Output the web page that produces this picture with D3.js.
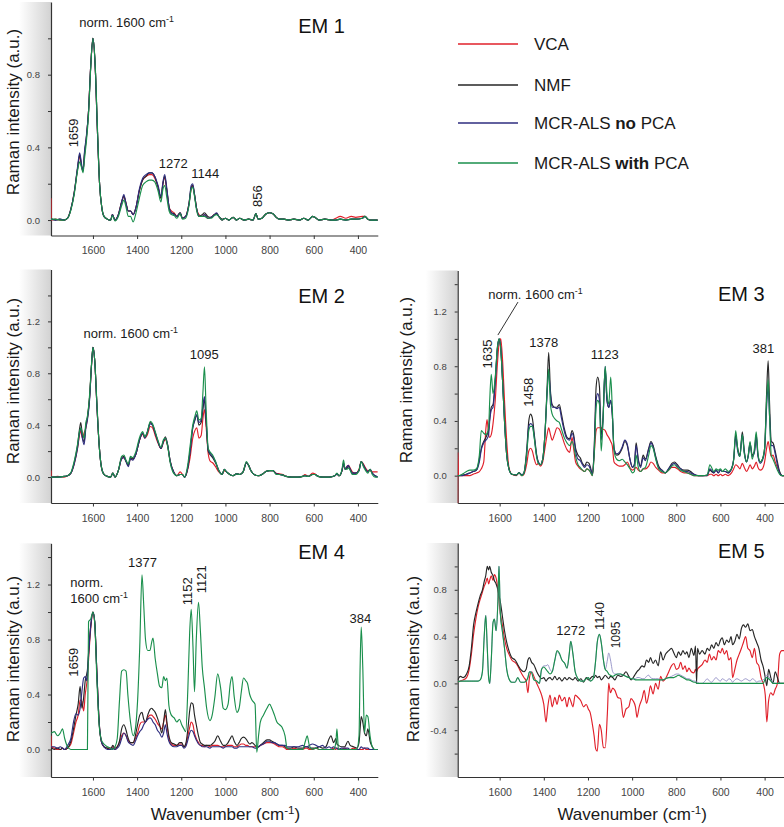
<!DOCTYPE html>
<html><head><meta charset="utf-8">
<script src="https://cdn.jsdelivr.net/npm/d3@7"></script>
<style>
body{margin:0;background:#fff}
svg{display:block}
text{font-family:"Liberation Sans",Arial,Helvetica,sans-serif}
</style>
</head><body>
<svg id="c" width="784" height="827"></svg>
<script>
// ---------------- data ----------------
const seriesNames = ["VCA", "NMF", "MCR-ALS no PCA", "MCR-ALS with PCA"];
const seriesColors = ["#e0202a", "#262626", "#2e2d7f", "#1a8f4c"];
const xTicks = [1600, 1400, 1200, 1000, 800, 600, 400];
const xDomain = [1790, 310];

// EM 1
const em1Wn = [1790,1789,1770,1750,1730,1715,1700,1685,1670,1660,
 1652,1645,1638,1630,1620,1610,1600,1590,1580,1570,
 1560,1550,1535,1520,1512,1500,1485,1470,1460,1450,
 1440,1430,1418,1405,1390,1375,1360,1345,1333,1320,
 1305,1292,1283,1275,1265,1255,1245,1232,1220,1205,
 1195,1180,1165,1155,1148,1140,1130,1120,1105,1095,
 1080,1065,1050,1040,1030,1015,1000,985,965,950,
 935,915,895,875,862,852,835,815,800,785,
 770,755,735,715,690,665,645,625,605,595,
 575,550,520,500,480,455,430,410,380,368,
 355,340,310];
const em1Vca = [0.12,0,0.005,0,0,0.01,0.06,0.15,0.28,0.35,
 0.3,0.27,0.36,0.45,0.6,0.85,1,0.85,0.5,0.2,
 0.07,0.02,0.005,0,0.03,0,0.03,0.1,0.13,0.09,
 0.05,0.05,0.03,0.07,0.16,0.22,0.24,0.25,0.25,0.23,
 0.18,0.12,0.2,0.23,0.16,0.07,0.05,0.04,0.02,0.04,
 0.01,0.02,0.09,0.17,0.19,0.14,0.06,0.03,0.02,0.03,
 0.01,0.015,0.03,0.035,0.02,0,0.01,0,0.015,0,
 0.01,0,0.005,0,0.035,0.005,0.01,0.035,0.04,0.035,
 0.015,0.005,0.005,0,0.005,0,0.01,0,0.02,0.015,
 0,0.005,0,0.01,0.02,0.01,0.02,0.015,0.02,0.02,
 0.005,0,0];
const em1Nmf = [0,0.005,0,0.005,0,0.01,0.06,0.15,0.28,0.36,
 0.3,0.27,0.37,0.45,0.6,0.85,1,0.85,0.5,0.2,
 0.07,0.02,0.005,0,0.03,0,0.03,0.1,0.13,0.09,
 0.05,0.05,0.03,0.07,0.16,0.22,0.24,0.26,0.26,0.24,
 0.18,0.12,0.2,0.24,0.16,0.07,0.04,0.035,0.02,0.04,
 0.01,0.02,0.09,0.18,0.19,0.14,0.06,0.02,0.03,0.04,
 0.02,0.015,0.03,0.035,0.02,0.005,0.01,0,0.015,0,
 0.01,0,0.005,0,0.035,0.005,0.01,0.035,0.04,0.035,
 0.015,0.005,0.005,0,0.005,0,0.01,0,0.02,0.015,
 0,0.005,0,0,0.005,0,0.005,0.005,0.01,0.02,
 0.005,0,0];
const em1Mcr = [0,0.005,0,0.005,0,0.01,0.06,0.15,0.29,0.37,
 0.31,0.27,0.38,0.46,0.6,0.85,1,0.85,0.5,0.2,
 0.07,0.02,0.005,0,0.03,0,0.03,0.1,0.14,0.09,
 0.05,0.05,0.03,0.07,0.17,0.23,0.25,0.26,0.26,0.24,
 0.19,0.13,0.21,0.25,0.17,0.07,0.04,0.03,0.02,0.04,
 0.01,0.02,0.09,0.19,0.2,0.14,0.06,0.02,0.02,0.03,
 0.01,0.015,0.03,0.04,0.02,0,0.01,0,0.015,0,
 0.01,0,0.005,0,0.035,0.005,0.01,0.035,0.04,0.035,
 0.015,0.005,0.005,0,0.005,0,0.01,0,0.02,0.015,
 0,0.005,0,0,0.005,0,0.005,0.005,0.01,0.02,
 0.005,0,0];
const em1McrPca = [0,0.005,0.005,0,0,0.01,0.055,0.14,0.27,0.32,
 0.29,0.26,0.34,0.43,0.58,0.84,1,0.86,0.52,0.2,
 0.07,0.02,0.005,0,0.025,-0.005,0.02,0.08,0.11,0.07,
 0.02,0.02,-0.01,0.04,0.12,0.19,0.21,0.22,0.22,0.21,
 0.16,0.1,0.17,0.19,0.12,0.05,0.03,0.025,0.01,0.035,
 0.005,0.01,0.08,0.17,0.18,0.13,0.05,0.02,0.02,0.02,
 0.01,0.01,0.025,0.03,0.02,0,0.01,0,0.015,0,
 0.01,0,0.005,0,0.035,0.005,0.01,0.035,0.04,0.035,
 0.015,0.005,0.005,0,0.005,0,0.01,0,0.02,0.015,
 0,0.005,0,0,0.005,0,0.005,0.005,0.01,0.02,
 0.005,0,0];

// EM 2
const em2Wn = [1790,1789,1760,1730,1715,1700,1685,1670,1660,1655,
 1648,1640,1632,1625,1615,1607,1600,1592,1582,1572,
 1562,1550,1535,1520,1510,1500,1485,1470,1460,1450,
 1440,1430,1420,1405,1390,1375,1365,1355,1340,1330,
 1318,1305,1292,1280,1272,1262,1250,1235,1220,1205,
 1195,1185,1172,1160,1148,1138,1130,1120,1110,1102,
 1095,1088,1078,1068,1058,1045,1030,1015,1005,995,
 980,965,950,935,920,905,895,885,870,850,
 830,815,800,785,770,755,740,725,700,670,
 650,640,625,605,595,580,560,530,505,495,
 485,472,465,458,450,443,435,425,410,395,
 385,375,365,355,345,335,322,310];
const em2Vca = [0.05,0,0.005,0,0.01,0.03,0.1,0.22,0.33,0.36,
 0.3,0.34,0.38,0.45,0.62,0.85,1,0.9,0.55,0.25,
 0.08,0.02,0.005,0,0.03,0,0.05,0.14,0.15,0.12,
 0.09,0.14,0.14,0.18,0.28,0.33,0.3,0.32,0.39,0.38,
 0.32,0.26,0.22,0.27,0.29,0.24,0.12,0.04,0.01,0.04,
 0.02,0,0.05,0.15,0.3,0.36,0.38,0.3,0.32,0.45,
 0.52,0.4,0.18,0.12,0.11,0.08,0.04,0.02,0.05,0.04,
 0.02,0.01,0.025,0.02,0.04,0.11,0.09,0.05,0.02,0.01,
 0.025,0.045,0.05,0.05,0.03,0.025,0.02,0.005,0,0,
 0.005,0.02,0.005,0.03,0.025,0.005,0,0,0.01,0.025,
 0.01,0.05,0.1,0.06,0.08,0.09,0.07,0.04,0.03,0.06,
 0.12,0.1,0.07,0.05,0.05,0.04,0.04,0.04];
const em2Nmf = [0,0,0,0.005,0.01,0.03,0.11,0.24,0.38,0.42,
 0.32,0.27,0.4,0.46,0.62,0.85,1,0.9,0.55,0.25,
 0.08,0.02,0.005,0,0.03,0,0.05,0.15,0.16,0.12,
 0.09,0.15,0.14,0.18,0.28,0.34,0.31,0.34,0.42,0.4,
 0.34,0.27,0.22,0.28,0.31,0.25,0.12,0.04,0.01,0.02,
 0.02,0,0.06,0.2,0.38,0.44,0.48,0.4,0.42,0.52,
 0.6,0.45,0.2,0.17,0.15,0.11,0.05,0.02,0.06,0.04,
 0.02,0.01,0.025,0.02,0.04,0.11,0.09,0.05,0.02,0.01,
 0.025,0.045,0.05,0.05,0.025,0.02,0.015,0.005,0,0,
 0.005,0.01,0.005,0.02,0.02,0.005,0,0,0.01,0.025,
 0.01,0.05,0.11,0.06,0.07,0.08,0.06,0.03,0.03,0.05,
 0.12,0.09,0.06,0.04,0.06,0.03,0.01,0];
const em2Mcr = [0,0,0,0.005,0.01,0.03,0.1,0.22,0.35,0.38,
 0.3,0.25,0.38,0.44,0.6,0.85,1,0.9,0.55,0.25,
 0.08,0.02,0.005,0,0.03,0,0.05,0.14,0.15,0.12,
 0.08,0.14,0.13,0.18,0.28,0.34,0.3,0.34,0.41,0.4,
 0.34,0.27,0.22,0.28,0.3,0.25,0.12,0.04,0.01,0.02,
 0.02,0,0.06,0.2,0.38,0.45,0.48,0.42,0.44,0.55,
 0.62,0.45,0.21,0.18,0.16,0.12,0.05,0.02,0.06,0.04,
 0.02,0.01,0.025,0.02,0.04,0.11,0.09,0.05,0.02,0.01,
 0.025,0.045,0.05,0.05,0.025,0.02,0.015,0.005,0,0,
 0.005,0.01,0.005,0.02,0.02,0.005,0,0,0.01,0.025,
 0.01,0.05,0.1,0.06,0.08,0.09,0.06,0.03,0.03,0.05,
 0.12,0.09,0.06,0.04,0.06,0.03,0.01,0];
const em2McrPca = [0,0,0,0.005,0.01,0.035,0.12,0.25,0.36,0.38,
 0.34,0.3,0.42,0.47,0.64,0.86,1,0.9,0.57,0.25,
 0.08,0.02,0.005,0,0.03,0,0.05,0.16,0.17,0.13,
 0.1,0.16,0.15,0.2,0.3,0.35,0.31,0.34,0.43,0.41,
 0.35,0.28,0.23,0.29,0.3,0.24,0.11,0.03,0.01,0.02,
 0.02,0,0.08,0.24,0.4,0.47,0.51,0.44,0.45,0.65,
 0.85,0.55,0.22,0.19,0.17,0.12,0.05,0.02,0.06,0.04,
 0.02,0.01,0.025,0.02,0.04,0.12,0.09,0.05,0.02,0.01,
 0.025,0.045,0.05,0.05,0.02,0.02,0.015,0.005,0,0,
 0.005,0.01,0.005,0.02,0.02,0.005,0,0,0.01,0.03,
 0.01,0.06,0.13,0.06,0.06,0.07,0.05,0.02,0.02,0.05,
 0.12,0.08,0.05,0.03,0.06,0.02,0,0];

// EM 3
const em3Wn = [1790,1789,1786,1770,1750,1735,1720,1705,1692,1683,
 1672,1662,1657,1650,1645,1638,1630,1620,1610,1602,
 1595,1587,1578,1568,1558,1545,1525,1512,1500,1490,
 1478,1468,1460,1452,1443,1433,1425,1415,1405,1395,
 1385,1378,1370,1362,1352,1340,1330,1320,1308,1295,
 1283,1272,1265,1256,1245,1235,1225,1215,1205,1195,
 1187,1180,1172,1163,1156,1148,1140,1132,1122,1114,
 1106,1097,1090,1082,1070,1058,1045,1033,1022,1010,
 998,990,982,972,962,950,940,925,915,905,
 893,880,865,850,835,820,808,795,780,765,
 750,735,720,700,680,660,648,640,630,620,
 610,600,590,578,565,550,540,531,522,512,
 501,492,482,474,466,456,446,438,430,420,
 410,400,391,384,378,370,362,352,342,332,
 320,310];
const em3Vca = [-0.2,0.17,0,0,0,0,0.01,0.02,0.03,0.05,
 0.1,0.35,0.41,0.3,0.28,0.3,0.38,0.55,0.82,0.97,
 1,0.85,0.55,0.25,0.06,0.01,0,0.02,0,0.01,
 0.08,0.18,0.2,0.18,0.12,0.08,0.09,0.07,0.1,0.2,
 0.3,0.35,0.3,0.26,0.3,0.35,0.34,0.3,0.24,0.19,
 0.17,0.28,0.2,0.1,0.07,0.05,0.04,0.03,0.05,0.04,
 0.02,0,0.15,0.33,0.35,0.35,0.35,0.34,0.33,0.3,
 0.28,0.25,0.22,0.1,0.08,0.07,0.07,0.08,0.1,0.06,
 0.04,0.05,0.06,0.04,0.03,0.05,0.05,0.07,0.1,0.09,
 0.06,0.04,0.02,0.02,0.04,0.06,0.06,0.05,0.03,0.02,
 0.02,0.01,0,0,0,0,0.01,0.01,0,0.01,
 0,0.01,0,0.01,0,0.02,0.05,0.08,0.07,0.05,
 0.09,0.06,0.03,0.05,0.08,0.05,0.07,0.1,0.06,0.04,
 0.05,0.1,0.2,0.25,0.2,0.14,0.15,0.1,0.06,0.02,
 0,0];
const em3Nmf = [0,0,0,0.005,0.01,0.02,0.03,0.04,0.12,0.2,
 0.25,0.28,0.3,0.33,0.42,0.5,0.52,0.7,0.94,1,
 0.93,0.7,0.4,0.15,0.05,0.01,0.005,0.02,0.005,0.02,
 0.18,0.4,0.45,0.42,0.3,0.16,0.1,0.08,0.12,0.3,
 0.65,0.9,0.62,0.52,0.5,0.5,0.52,0.45,0.35,0.28,
 0.27,0.33,0.3,0.2,0.15,0.13,0.09,0.07,0.1,0.09,
 0.05,0.01,0.2,0.65,0.72,0.65,0.3,0.42,0.78,0.55,
 0.5,0.55,0.45,0.2,0.15,0.16,0.2,0.25,0.22,0.12,
 0.06,0.08,0.24,0.12,0.07,0.15,0.12,0.2,0.25,0.22,
 0.14,0.07,0.04,0.02,0.05,0.09,0.1,0.08,0.05,0.04,
 0.04,0.03,0.01,0,0,0.005,0.04,0.03,0.02,0.04,
 0.02,0.04,0.03,0.03,0.02,0.05,0.12,0.3,0.2,0.15,
 0.32,0.18,0.1,0.15,0.24,0.15,0.18,0.3,0.15,0.1,
 0.12,0.2,0.6,0.84,0.55,0.25,0.24,0.18,0.1,0.03,
 0,0];
const em3Mcr = [0,0,0,0,0.01,0.02,0.03,0.04,0.1,0.19,
 0.24,0.26,0.27,0.3,0.4,0.48,0.5,0.68,0.93,1,
 0.93,0.7,0.4,0.15,0.05,0.01,0.005,0.02,0.005,0.02,
 0.15,0.36,0.38,0.37,0.28,0.15,0.1,0.08,0.12,0.3,
 0.6,0.76,0.6,0.5,0.5,0.49,0.5,0.42,0.33,0.27,
 0.26,0.31,0.28,0.18,0.12,0.11,0.08,0.06,0.08,0.07,
 0.04,0.01,0.18,0.55,0.6,0.55,0.26,0.4,0.8,0.55,
 0.5,0.55,0.45,0.2,0.16,0.17,0.21,0.26,0.23,0.12,
 0.06,0.08,0.22,0.11,0.06,0.13,0.11,0.19,0.24,0.21,
 0.13,0.06,0.04,0.02,0.05,0.08,0.09,0.07,0.05,0.03,
 0.03,0.02,0.01,0,0,0,0.05,0.04,0.02,0.04,
 0.02,0.04,0.03,0.03,0.02,0.05,0.12,0.28,0.18,0.14,
 0.3,0.17,0.1,0.14,0.23,0.14,0.17,0.28,0.14,0.09,
 0.11,0.18,0.5,0.65,0.45,0.22,0.22,0.16,0.08,0.02,
 0,0];
const em3McrPca = [0,0,0,0.01,0.03,0.04,0.04,0.05,0.15,0.33,
 0.31,0.3,0.31,0.35,0.55,0.74,0.6,0.72,0.94,1,
 0.92,0.7,0.4,0.15,0.05,0.01,0.005,0.02,0,0.02,
 0.15,0.33,0.36,0.36,0.27,0.14,0.09,0.08,0.12,0.3,
 0.62,0.78,0.52,0.45,0.42,0.4,0.39,0.34,0.28,0.24,
 0.22,0.25,0.22,0.14,0.08,0.06,0.04,0.03,0.05,0.04,
 0.02,0,0.15,0.5,0.55,0.52,0.18,0.4,0.8,0.6,
 0.52,0.72,0.5,0.18,0.12,0.11,0.12,0.1,0.08,0.05,
 0.02,0.03,0.15,0.06,0.03,0.05,0.06,0.15,0.22,0.2,
 0.12,0.05,0.03,0.02,0.04,0.07,0.08,0.06,0.04,0.03,
 0.02,0.01,0,0,0,0.005,0.08,0.06,0.03,0.05,
 0.04,0.05,0.03,0.05,0.03,0.05,0.12,0.33,0.2,0.14,
 0.3,0.16,0.1,0.15,0.25,0.12,0.2,0.32,0.16,0.1,
 0.12,0.2,0.55,0.7,0.45,0.15,0.12,0.08,0.04,0.01,
 0,0];

// EM 4
const em4Wn = [1790,1789,1775,1760,1748,1738,1728,1715,1700,1688,
 1677,1667,1658,1650,1642,1635,1628,1625,1620,1610,
 1600,1592,1582,1572,1562,1550,1535,1520,1510,1500,
 1490,1480,1470,1460,1450,1442,1430,1418,1408,1398,
 1388,1378,1370,1362,1352,1342,1334,1328,1318,1308,
 1298,1288,1280,1272,1265,1256,1245,1232,1220,1208,
 1198,1188,1180,1170,1162,1155,1147,1140,1132,1122,
 1113,1105,1095,1085,1070,1060,1048,1035,1022,1010,
 1000,988,978,970,960,948,938,928,918,908,
 900,890,880,866,858,850,842,828,812,800,
 790,778,767,755,743,730,721,705,690,670,
 650,638,630,620,605,590,575,560,545,530,
 522,510,500,495,488,475,460,445,435,420,
 405,395,390,385,378,370,362,355,345,335,
 325,310];
const em4Vca = [0.1,0.02,0.01,0,0,0.01,0,0.01,0.04,0.12,
 0.2,0.25,0.36,0.35,0.28,0.4,0.48,0.52,0.65,0.88,
 1,0.92,0.55,0.2,0.06,0.02,0.01,0.01,0.02,0,
 0.02,0.05,0.1,0.12,0.1,0.07,0.05,0.05,0.08,0.12,
 0.18,0.2,0.2,0.2,0.23,0.25,0.25,0.24,0.22,0.19,
 0.17,0.15,0.2,0.25,0.18,0.08,0.04,0.03,0.03,0.04,
 0.04,0.02,0.03,0.1,0.16,0.2,0.18,0.12,0.08,0.05,
 0.03,0.03,0.02,0.03,0.02,0.03,0.03,0.03,0.02,0.02,
 0.02,0.03,0.03,0.03,0.02,0.02,0.03,0.04,0.04,0.03,
 0.03,0.02,0.02,0.02,0.02,0.02,0.03,0.04,0.05,0.05,
 0.05,0.04,0.03,0.02,0.02,0.01,0,0,0.01,0,
 0,0.01,0.01,0,0,0.01,0,0,0,0,
 0,0.01,0,0.01,0,0,0.01,0,0,0.01,
 0,0,0,0,0,0.01,0,0,0,0,
 0,0];
const em4Nmf = [0.01,0.01,0,0.01,0,0.01,0,0.01,0.06,0.15,
 0.25,0.33,0.46,0.3,0.38,0.5,0.55,0.58,0.7,0.9,
 1,0.93,0.55,0.2,0.06,0.02,0.01,0,0.03,0.01,
 0.02,0.06,0.15,0.18,0.14,0.09,0.05,0.05,0.1,0.18,
 0.25,0.27,0.22,0.2,0.25,0.29,0.3,0.29,0.27,0.23,
 0.18,0.12,0.2,0.29,0.2,0.1,0.05,0.04,0.03,0.05,
 0.05,0.02,0.04,0.15,0.28,0.34,0.33,0.25,0.18,0.1,
 0.05,0.04,0.03,0.03,0.03,0.04,0.06,0.1,0.06,0.03,
 0.03,0.05,0.08,0.1,0.06,0.03,0.05,0.08,0.09,0.08,
 0.06,0.04,0.05,0.03,0.02,0.02,0.03,0.05,0.07,0.07,
 0.06,0.05,0.04,0.03,0.03,0.02,0.01,0.01,0.02,0.01,
 0.01,0.02,0.02,0.01,0.01,0.01,0.02,0.01,0.02,0.08,
 0.1,0.05,0.08,0.04,0.03,0.02,0.02,0.06,0.03,0.02,
 0.01,0.05,0.15,0.24,0.2,0.12,0.1,0.15,0.06,0.02,
 0,0];
const em4Mcr = [0.02,0.02,0.02,0.01,0.02,0.01,0,0.03,0.08,0.2,
 0.26,0.25,0.3,0.42,0.52,0.53,0.5,0.55,0.68,0.9,
 1,0.93,0.55,0.2,0.06,0.02,0,0,0.01,0,
 0.01,0.03,0.08,0.12,0.1,0.06,0.04,0.03,0.06,0.1,
 0.13,0.15,0.18,0.2,0.22,0.23,0.22,0.2,0.18,0.14,
 0.12,0.09,0.12,0.18,0.12,0.06,0.03,0.02,0.02,0.03,
 0.03,0.01,0.02,0.07,0.12,0.14,0.13,0.1,0.07,0.04,
 0.03,0.02,0.02,0.02,0.01,0.02,0.02,0.02,0.02,0.01,
 0.02,0.02,0.02,0.02,0.01,0.01,0.02,0.02,0.02,0.02,
 0.02,0.02,0.02,0.01,0.01,0.02,0.03,0.04,0.06,0.06,
 0.05,0.05,0.04,0.03,0.03,0.03,0.02,0.02,0.02,0.02,
 0.03,0.02,0.02,0.03,0.04,0.03,0.02,0.03,0.01,0.02,
 0.01,0.02,0.01,0.01,0,0.01,0.01,0.01,0,0,
 0,0,0.01,0.02,0.01,0.01,0.01,0.01,0,0,
 0,0];
const em4McrPca = [0.12,0.12,0.13,0.1,0.12,0.15,0.08,0.02,0,0,
 0,0,0,0,0,0,0,0,0.93,0.95,
 1,0.92,0.5,0.18,0.07,0.04,0.02,0.01,0,0.02,
 0.08,0.35,0.57,0.58,0.57,0.4,0.2,0.1,0.15,0.35,
 0.75,1.27,1.05,0.8,0.72,0.72,0.78,0.81,0.66,0.55,
 0.46,0.45,0.53,0.5,0.52,0.32,0.25,0.23,0.2,0.22,
 0.18,0.15,0.13,0.45,0.85,1.02,0.75,0.42,0.8,1.07,
 0.85,0.6,0.45,0.3,0.21,0.25,0.38,0.55,0.45,0.3,
 0.29,0.33,0.48,0.53,0.38,0.27,0.3,0.42,0.52,0.5,
 0.48,0.4,0.36,0.33,-0.02,0.1,0.2,0.25,0.3,0.33,
 0.3,0.25,0.2,0.18,0.16,0.1,0.01,0,0,0,
 0,0.06,0.1,0.03,0,0.01,0,0,0,0,
 0,0,0.05,0.15,0,0,0,0,0,0,
 0,0.1,0.6,0.89,0.6,0.12,0.25,0.24,0.1,0.02,
 0,0];

// EM 5
const em5Wn = [1790,1778,1765,1750,1738,1728,1718,1708,1698,1688,
 1678,1670,1663,1656,1650,1645,1638,1630,1624,1616,
 1608,1603,1597,1588,1578,1568,1558,1545,1530,1518,
 1505,1490,1480,1472,1465,1455,1445,1432,1420,1410,
 1400,1390,1382,1372,1362,1350,1340,1330,1318,1305,
 1295,1285,1278,1268,1258,1245,1232,1220,1208,1198,
 1190,1180,1172,1165,1158,1148,1140,1130,1122,1112,
 1106,1098,1088,1078,1065,1052,1040,1028,1015,1005,
 995,985,978,968,955,945,935,925,917,905,
 894,882,871,860,849,834,822,811,800,790,
 780,770,760,752,743,732,720,713,708,704,
 695,683,670,660,650,640,630,620,610,600,
 592,582,572,562,552,545,535,525,515,505,
 496,486,476,466,456,446,436,426,416,406,
 397,390,382,372,362,352,342,332,322,310];
const em5Vca = [0.01,0.02,0.03,0.05,0.12,0.25,0.42,0.55,0.65,0.72,
 0.78,0.83,0.86,0.9,0.85,0.88,0.92,0.88,0.93,0.9,
 0.8,0.7,0.6,0.5,0.38,0.3,0.25,0.2,0.18,0.15,
 0.1,0.05,0.02,-0.08,0.05,0.1,0.06,0,-0.05,-0.1,
 -0.18,-0.33,-0.2,-0.1,-0.2,-0.12,-0.18,-0.1,-0.15,-0.12,
 -0.2,-0.12,-0.15,-0.2,-0.1,-0.12,-0.15,-0.2,-0.18,-0.22,
 -0.25,-0.35,-0.45,-0.56,-0.58,-0.35,-0.4,-0.55,-0.55,-0.25,
 0,-0.08,-0.04,-0.06,-0.12,-0.13,-0.29,-0.22,-0.2,-0.13,
 -0.15,-0.2,-0.29,-0.2,-0.13,-0.06,-0.17,-0.1,-0.02,-0.09,
 0,-0.05,0.06,0.02,0.04,0.1,0.15,0.17,0.12,0.13,
 0.18,0.12,0.15,0.1,0.13,0.1,0.09,0.12,0.1,0.12,
 0.14,0.16,0.2,0.18,0.25,0.2,0.23,0.2,0.28,0.26,
 0.3,0.25,0.28,0.2,0.22,0.05,0.12,0.2,0.25,0.3,
 0.35,0.4,0.3,0.28,0.22,0.3,0.18,0.15,0.05,0,
 -0.1,-0.33,-0.15,-0.08,-0.1,-0.05,0,0.25,0.28,0.28];
const em5Nmf = [0.03,0.06,0.05,0.08,0.15,0.3,0.5,0.6,0.68,0.75,
 0.8,0.87,0.92,1,0.97,1,0.95,0.92,0.88,0.85,
 0.8,0.75,0.7,0.58,0.45,0.35,0.28,0.22,0.2,0.16,
 0.12,0.1,0.12,0.2,0.22,0.18,0.16,0.1,0.06,0.04,
 0.05,0.02,0.04,0.05,0.03,0.06,0.03,0.05,0.02,0.05,
 0.03,0.05,0.04,0.03,0.05,0.02,0.04,0.01,0.05,0.03,
 0.04,0.06,0.05,0.07,0.05,0.06,0.03,0.05,0.07,0.05,
 0.04,0.06,0.05,0.03,0.07,0.06,0.07,0.1,0.06,0.03,
 0.05,0.08,0.1,0.12,0.15,0.14,0.2,0.18,0.22,0.17,
 0.2,0.15,0.27,0.2,0.25,0.28,0.3,0.26,0.22,0.27,
 0.24,0.28,0.25,0.27,0.22,0.3,0.24,0.32,0,0.3,
 0.25,0.28,0.25,0.3,0.28,0.33,0.3,0.35,0.32,0.37,
 0.39,0.33,0.37,0.35,0.4,0.33,0.36,0.42,0.38,0.47,
 0.5,0.48,0.51,0.45,0.46,0.4,0.35,0.3,0.2,0.14,
 0.05,-0.02,0.12,0.05,0,0.1,0.05,0,0,0];
const em5Mcr = [0.01,0.02,0.02,0.02,0.02,0.02,0.02,0.02,0.02,0.03,
 0.1,0.4,0.58,0.3,0.05,0,0.2,0.52,0.55,0.45,
 0.7,1,0.6,0.45,0.3,0.12,0.04,0.01,0.01,0.05,
 0.01,0.01,0.02,0.05,0.1,0.1,0.03,0.02,0,0.12,
 0.15,0.15,0.16,0.12,0.1,0.2,0.27,0.25,0.2,0.17,
 0.13,0.25,0.36,0.25,0.1,0.04,0.02,0.02,0.04,0.05,
 0.02,0.03,0.08,0.2,0.35,0.42,0.35,0.2,0.12,0.2,
 0.26,0.2,0.1,0.08,0.08,0.08,0.07,0.06,0.05,0.04,
 0.04,0.04,0.05,0.05,0.04,0.04,0.06,0.07,0.05,0.04,
 0.04,0.04,0.03,0.03,0.04,0.05,0.06,0.07,0.08,0.08,
 0.07,0.06,0.05,0.04,0.04,0.03,0.02,0.02,0.01,0.01,
 0,0,0.02,0.04,0.02,0.01,0.03,0.05,0.03,0.02,
 0.04,0.03,0.02,0.04,0.03,0.01,0.03,0.04,0.03,0.02,
 0.03,0.04,0.03,0.02,0.04,0.03,0.01,0.02,0.02,0.03,
 0.05,0.07,0.06,0.03,0.01,0,0,0,0,0];
const em5McrPca = [0.01,0.02,0.02,0.02,0.02,0.02,0.02,0.02,0.02,0.03,
 0.1,0.4,0.58,0.3,0.05,0,0.2,0.52,0.55,0.45,
 0.7,1,0.6,0.45,0.3,0.12,0.04,0.01,0.01,0.05,
 0.01,0.01,0.02,0.05,0.1,0.09,0.03,0.02,0,0.12,
 0.14,0.12,0.1,0.08,0.1,0.2,0.28,0.26,0.2,0.17,
 0.13,0.25,0.36,0.25,0.1,0.04,0.02,0.02,0.04,0.05,
 0.02,0.03,0.08,0.2,0.35,0.42,0.35,0.2,0.12,0.1,
 0.08,0.07,0.06,0.07,0.08,0.08,0.07,0.06,0.05,0.04,
 0.04,0.03,0.03,0.03,0.03,0.03,0.03,0.03,0.03,0.03,
 0.03,0.03,0.03,0.03,0.04,0.05,0.05,0.05,0.06,0.07,
 0.06,0.05,0.04,0.03,0.03,0.02,0.01,0.01,0,0,
 0,0,0,0,0,0,0,0,0,0,
 0,0,0,0,0,0,0,0,0,0,
 0,0,0,0,0,0,0,0,0,0,
 0.04,0.05,0.04,0.02,0,0,0,0,0,0];

// peak annotations (wavenumber, intensity anchor)
const em1Notes = [
  {t:"norm. 1600 cm", sup:"-1", w:1662, v:1.062, a:"start"},
  {t:"1659", w:1666, v:0.40, r:-90, a:"start"},
  {t:"1272", w:1236, v:0.286, a:"middle"},
  {t:"1144", w:1091, v:0.231, a:"middle"},
  {t:"856", w:833, v:0.072, r:-90, a:"start"}
];
const em2Notes = [
  {t:"norm. 1600 cm", sup:"-1", w:1643, v:1.07, a:"start"},
  {t:"1095", w:1096, v:0.907, a:"middle"}
];
const em3Notes = [
  {t:"norm. 1600 cm", sup:"-1", w:1652, v:1.29, a:"start"},
  {t:"1635", w:1635, v:0.784, r:-90, a:"start"},
  {t:"1458", w:1449, v:0.504, r:-90, a:"start"},
  {t:"1378", w:1400, v:0.938, a:"middle"},
  {t:"1123", w:1124, v:0.85, a:"middle"},
  {t:"381", w:406, v:0.9, a:"middle"}
];
const em3Leader = [[1517, 1.269], [1608, 1.028]];
const em4Notes = [
  {t:"norm.", w:1703, v:1.184, a:"start"},
  {t:"1600 cm", sup:"-1", w:1703, v:1.063, a:"start"},
  {t:"1377", w:1376, v:1.33, a:"middle"},
  {t:"1659", w:1666, v:0.53, r:-90, a:"start"},
  {t:"1152", w:1150, v:1.05, r:-90, a:"start"},
  {t:"1121", w:1090, v:1.136, r:-90, a:"start"},
  {t:"384", w:389, v:0.918, a:"middle"}
];
const em5Notes = [
  {t:"1272", w:1278, v:0.414, a:"middle"},
  {t:"1140", w:1128, v:0.456, r:-90, a:"start"},
  {t:"1095", w:1055, v:0.30, r:-90, a:"start", s:12}
];

const legendParts = [["VCA"], ["NMF"], ["MCR-ALS ", "no", " PCA"], ["MCR-ALS ", "with", " PCA"]];

// ---------------- layout ----------------
const PX_PER_UNIT = 0.2208;
const panels = [
  {title:"EM 1", tw:670, tv:1.03, wn:em1Wn, data:[em1Vca, em1Nmf, em1Mcr, em1McrPca], left:51, top:2, bottom:235.5, yDom:[-0.085, 1.2], labDx:-32.5, labY:112, notes:em1Notes},
  {title:"EM 2", tw:670, tv:1.34, wn:em2Wn, data:[em2Vca, em2Nmf, em2Mcr, em2McrPca], left:51, top:269.5, bottom:503, yDom:[-0.2, 1.6], labDx:-32.5, labY:381, notes:em2Notes},
  {title:"EM 3", tw:611, tv:1.276, wn:em3Wn, data:[em3Vca, em3Nmf, em3Mcr, em3McrPca], left:457.7, top:270.5, bottom:503, yDom:[-0.2, 1.5], labDx:-46, labY:380, notes:em3Notes, leader:em3Leader},
  {title:"EM 4", tw:670, tv:1.389, wn:em4Wn, data:[em4Vca, em4Nmf, em4Mcr, em4McrPca], left:51, top:543.3, bottom:777, yDom:[-0.2, 1.5], labDx:-32.5, labY:659, notes:em4Notes, xlab:true},
  {title:"EM 5", tw:611, tv:1.069, wn:em5Wn, data:[em5Vca, em5Nmf, em5Mcr, em5McrPca], left:457.7, top:543, bottom:777, yDom:[-0.8, 1.2], labDx:-39, labY:659, notes:em5Notes, xlab:true, lightBlue:true}
];

const svg = d3.select("#c");
const defs = svg.append("defs");
const grad = defs.append("linearGradient").attr("id", "shade")
  .attr("x1", 0).attr("x2", 1).attr("y1", 0).attr("y2", 0);
grad.append("stop").attr("offset", 0).attr("stop-color", "#ffffff");
grad.append("stop").attr("offset", 1).attr("stop-color", "#d2d2d2");

function addText(g, s, parts, size) {
  const t = g.append("text").attr("font-size", size).attr("fill", "#1a1a1a");
  t.append("tspan").text(parts.t);
  if (parts.sup) {
    t.append("tspan").attr("dy", -size * 0.38).attr("font-size", size * 0.68).text(parts.sup);
    if (parts.after) t.append("tspan").attr("dy", size * 0.38).attr("font-size", size).text(parts.after);
  }
  return t;
}

panels.forEach((p, pi) => {
  const right = p.left + (xDomain[0] - xDomain[1]) * PX_PER_UNIT;
  const x = d3.scaleLinear().domain(xDomain).range([p.left, right]);
  const y = d3.scaleLinear().domain(p.yDom).range([p.bottom, p.top]);
  const g = svg.append("g");

  // shaded band left of the y axis
  g.append("rect").attr("x", p.left - 32).attr("y", p.top).attr("width", 32)
    .attr("height", p.bottom - p.top).attr("fill", "url(#shade)");

  // clip
  defs.append("clipPath").attr("id", "clip" + pi).append("rect")
    .attr("x", p.left).attr("y", p.top).attr("width", right - p.left).attr("height", p.bottom - p.top);

  // axes
  const xa = d3.axisBottom(x).tickValues(xTicks).tickSize(3.5).tickPadding(8).tickSizeOuter(0).tickFormat(d3.format("d"));
  const gx = g.append("g").attr("transform", `translate(0,${p.bottom})`).call(xa);
  const yt = [];
  for (let k = -10; k <= 10; k++) {
    const v = k * 0.2;
    if (v > p.yDom[0] + 1e-6 && v < p.yDom[1] - 1e-6) yt.push(Math.round(v * 10) / 10);
  }
  const ya = d3.axisLeft(y).tickValues(yt).tickSize(3).tickPadding(8).tickSizeOuter(0)
    .tickFormat(v => (Math.abs(Math.round(v * 10)) % 4 === 0) ? v.toFixed(1) : "");
  const gy = g.append("g").attr("transform", `translate(${p.left},0)`).call(ya);
  [gx, gy].forEach(a => {
    a.select(".domain").attr("stroke", "#333").attr("stroke-width", 1.2);
    a.selectAll(".tick line").attr("stroke", "#333");
    a.selectAll(".tick text").attr("fill", "#444").attr("font-family", "'Liberation Sans',Arial,sans-serif");
  });
  gx.selectAll(".tick text").attr("font-size", 10.5);
  gy.selectAll(".tick text").attr("font-size", 9.5);

  // series
  const plot = g.append("g").attr("clip-path", `url(#clip${pi})`);
  p.data.forEach((vals, si) => {
    const line = d3.line().x((d, i) => x(p.wn[i])).y(d => y(d)).curve(d3.curveMonotoneX);
    const light = p.lightBlue && si === 2;
    plot.append("path").datum(vals).attr("d", line)
      .attr("fill", "none")
      .attr("stroke", light ? "#8f8dc4" : seriesColors[si])
      .attr("stroke-width", light ? 0.9 : 1.15)
      .attr("stroke-linejoin", "round");
  });

  // title
  g.append("text").attr("x", x(p.tw)).attr("y", y(p.tv)).attr("font-size", 20)
    .attr("fill", "#111").text(p.title);

  // notes
  p.notes.forEach(n => {
    const t = addText(g, null, n, n.s || 13);
    t.attr("text-anchor", n.a)
      .attr("transform", `translate(${x(n.w)},${y(n.v)}) rotate(${n.r || 0})`);
  });
  if (p.leader) {
    g.append("line").attr("x1", x(p.leader[0][0])).attr("y1", y(p.leader[0][1]))
      .attr("x2", x(p.leader[1][0])).attr("y2", y(p.leader[1][1]))
      .attr("stroke", "#333").attr("stroke-width", 1);
  }

  // y label
  g.append("text").attr("transform", `translate(${p.left + p.labDx},${p.labY}) rotate(-90)`)
    .attr("text-anchor", "middle").attr("font-size", 17).attr("fill", "#1a1a1a")
    .text("Raman intensity (a.u.)");

  // x label
  if (p.xlab) {
    const t = addText(g, null, {t:"Wavenumber (cm", sup:"-1", after:")"}, 17);
    t.attr("text-anchor", "middle").attr("x", x(1000)).attr("y", 820);
  }
});

// legend
const legY = [44, 85, 123, 163];
const lg = svg.append("g");
legendParts.forEach((parts, i) => {
  lg.append("line").attr("x1", 458).attr("x2", 518).attr("y1", legY[i]).attr("y2", legY[i])
    .attr("stroke", seriesColors[i]).attr("stroke-width", 1.6);
  const t = lg.append("text").attr("x", 534).attr("y", legY[i] + 6).attr("font-size", 17).attr("fill", "#1a1a1a");
  parts.forEach((s, j) => t.append("tspan").attr("font-weight", j === 1 ? "bold" : "normal").text(s));
});
</script>
</body></html>
